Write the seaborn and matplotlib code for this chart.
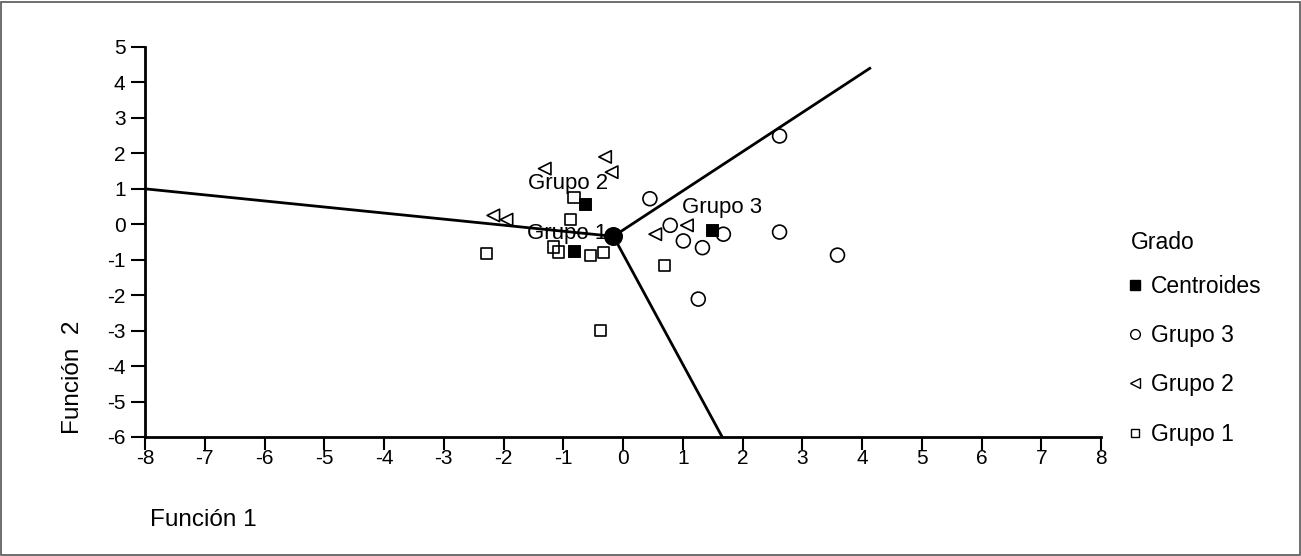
"""Discriminant-function territory map (Función 1 vs Función 2) with group centroids."""

import numpy as np
import pandas as pd
import matplotlib
matplotlib.use("Agg")
import matplotlib.pyplot as plt
from matplotlib.lines import Line2D
import seaborn as sns

# --- data ---------------------------------------------------------------
g1_x = [-0.82, -0.88, -1.16, -1.08, -2.29, -0.54, -0.33, 0.69, -0.37]
g1_y = [0.75, 0.14, -0.64, -0.78, -0.83, -0.87, -0.80, -1.17, -2.99]

g2_x = [-0.30, -0.19, -1.31, -2.17, -1.95, 0.54, 1.07]
g2_y = [1.90, 1.47, 1.57, 0.25, 0.13, -0.28, -0.03]

g3_x = [0.45, 0.79, 1.01, 1.33, 1.68, 1.26, 2.62, 2.62, 3.59]
g3_y = [0.72, -0.03, -0.47, -0.66, -0.28, -2.11, 2.49, -0.22, -0.87]

cent_x = [-0.82, -0.64, 1.49]
cent_y = [-0.75, 0.56, -0.15]
cent_names = ["Grupo 1", "Grupo 2", "Grupo 3"]
label_x = [-0.94, -0.92, 1.66]
label_y = [-0.25, 1.15, 0.48]

# territory boundaries: common vertex and the three end points
vertex = (-0.16, -0.34)
ends_x = [-8.0, 4.15, 1.66]
ends_y = [1.0, 4.42, -6.0]

x_ticks = list(range(-8, 9))
y_ticks = list(range(-6, 6))

sns.set_theme(style="white")
plt.rcParams["font.family"] = ["Liberation Sans", "DejaVu Sans"]
plt.rcParams["axes.unicode_minus"] = False
plt.rcParams["text.color"] = "black"
plt.rcParams["axes.labelcolor"] = "black"

fig = plt.figure(figsize=(13.01, 5.56), dpi=100)
ax = fig.add_axes([145 / 1301, 1 - 437 / 556, (1101 - 145) / 1301, (437 - 47) / 556])

# boundaries
for ex, ey in zip(ends_x, ends_y):
    ax.plot([vertex[0], ex], [vertex[1], ey], color="black", lw=2.0,
            solid_capstyle="butt", zorder=2)
ax.scatter([vertex[0]], [vertex[1]], s=160, color="black", zorder=4)

groups = [
    ("Grupo 1", g1_x, g1_y, "s", 65),
    ("Grupo 2", g2_x, g2_y, "<", 80),
    ("Grupo 3", g3_x, g3_y, "o", 100),
]
for name, xs, ys, mk, sz in groups:
    df = pd.DataFrame({"f1": xs, "f2": ys})
    sns.scatterplot(data=df, x="f1", y="f2", marker=mk, s=sz, ax=ax,
                    facecolors="none", edgecolor="black", linewidth=1.2,
                    zorder=3)

cdf = pd.DataFrame({"f1": cent_x, "f2": cent_y})
sns.scatterplot(data=cdf, x="f1", y="f2", marker="s", s=70, color="black",
                edgecolor="black", ax=ax, zorder=3)

for name, lx, ly in zip(cent_names, label_x, label_y):
    ax.text(lx, ly, name, ha="center", va="center", fontsize=16, zorder=5)

ax.set_xlim(-8, 8)
ax.set_ylim(-6, 5)
ax.set_xticks(x_ticks)
ax.set_yticks(y_ticks)
ax.tick_params(axis="both", direction="out", width=1.5, labelsize=15,
               color="black", labelcolor="black", left=True, bottom=True)
ax.tick_params(axis="x", length=9, pad=0)
ax.tick_params(axis="y", length=10, pad=4)
for side in ["top", "right"]:
    ax.spines[side].set_visible(False)
for side in ["left", "bottom"]:
    ax.spines[side].set_color("black")
    ax.spines[side].set_linewidth(2.0)
ax.set_xlabel("")
ax.set_ylabel("")

fig.text(73 / 1301, 1 - 377 / 556, "Función  2", rotation=90, fontsize=17.5,
         ha="center", va="center")
fig.text(150 / 1301, 1 - 520 / 556, "Función 1", fontsize=17.5,
         ha="left", va="center")

handles = [
    Line2D([], [], ls="", marker="s", ms=7, mfc="black", mec="black"),
    Line2D([], [], ls="", marker="o", ms=7, mfc="none", mec="black"),
    Line2D([], [], ls="", marker="<", ms=7, mfc="none", mec="black"),
    Line2D([], [], ls="", marker="s", ms=6, mfc="none", mec="black"),
]
fig.text(1131 / 1301, 1 - 243 / 556, "Grado", fontsize=16.5,
         ha="left", va="center")
leg = ax.legend(handles, ["Centroides", "Grupo 3", "Grupo 2", "Grupo 1"],
                loc="upper left", bbox_to_anchor=(1.004, 0.469),
                frameon=False, fontsize=16.5,
                handletextpad=0.3, handlelength=0.8, labelspacing=1.15,
                alignment="left")

# scanned page border
fig.add_artist(plt.Rectangle((0.001, 0.001), 0.998, 0.996, fill=False,
                             edgecolor="#555555", lw=1.2, transform=fig.transFigure))

fig.savefig("out.png", dpi=100)
